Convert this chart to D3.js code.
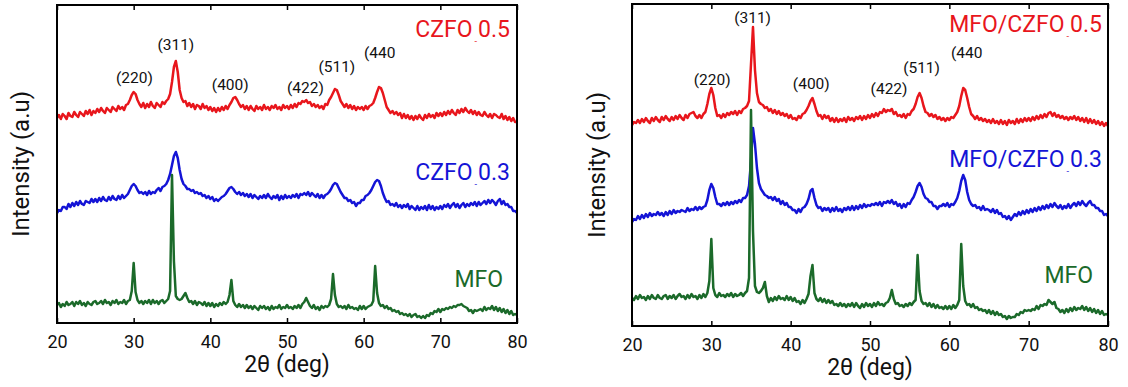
<!DOCTYPE html>
<html>
<head>
<meta charset="utf-8">
<script src="https://cdn.jsdelivr.net/npm/d3@7"></script>
<style>
  body { margin: 0; background: #fff; }
  text { font-family: Roboto, "Noto Sans", sans-serif; }
</style>
</head>
<body>
<svg id="chart" width="1128" height="387"></svg>
<script>
// 2theta sampling: 20..80 deg, every 0.25 deg (241 points per pattern)
const thetaStart = 20;
const thetaStep = 0.25;

// left panel (stacked intensities, a.u.)
const czfo05 = [
  205,208,204,209,207,204,210,207,206,211,208,206,211,209,207,212,209,213,208,212,
  210,214,211,215,212,210,215,213,211,216,214,212,217,214,216,213,218,219,223,228,
  231,229,223,219,216,220,215,219,216,221,217,215,220,218,216,221,219,222,224,229,
  241,256,262,251,233,225,221,222,217,220,216,219,214,218,217,214,219,215,217,213,
  216,212,215,211,215,212,216,213,217,214,218,221,225,226,223,219,216,218,214,217,
  213,217,214,212,217,214,216,213,218,214,216,213,217,215,218,214,216,213,218,215,
  217,214,218,215,219,216,220,219,222,221,223,220,221,217,219,216,218,215,217,214,
  219,218,223,226,230,234,233,228,222,219,216,219,215,218,214,217,213,216,214,216,
  213,217,214,217,218,220,225,231,236,235,230,223,216,213,210,212,209,211,208,210,
  205,209,205,208,204,207,203,207,204,208,205,203,208,205,209,206,208,205,210,207,
  210,207,211,208,212,209,213,210,208,213,210,214,211,215,212,210,213,209,212,208,
  211,208,207,211,208,206,209,205,209,208,206,205,209,204,207,203,206,202,205,201,
  201
];
const czfo03 = [
  110,113,112,116,116,114,119,116,120,117,121,118,122,119,118,122,121,120,124,121,
  124,121,125,122,126,123,122,126,123,127,124,123,127,124,128,125,127,129,133,137,
  139,137,133,130,131,129,131,128,132,129,131,130,133,135,132,136,137,139,143,149,
  158,167,171,165,153,144,139,137,134,134,132,133,130,131,129,130,127,128,125,127,
  124,126,122,124,122,124,126,127,129,132,135,136,134,131,129,131,128,130,127,129,
  126,129,125,128,126,124,127,125,128,125,129,126,124,127,125,128,123,127,124,128,
  125,127,125,128,126,129,125,129,128,130,128,131,127,130,128,126,129,125,128,125,
  128,129,131,134,138,140,139,135,131,128,125,125,122,123,120,121,117,120,120,123,
  123,127,128,130,133,137,141,143,142,137,130,125,121,122,118,119,117,120,116,118,
  115,118,116,119,114,117,115,113,117,113,116,114,117,113,118,114,117,113,116,114,
  117,114,118,116,119,115,118,120,116,119,115,118,120,116,119,117,120,118,121,117,
  121,118,120,122,119,123,120,123,121,118,122,124,119,122,118,119,116,116,112,112,
  110
];
const mfoLeft = [
  18,20,16,19,17,21,18,19,21,17,21,19,22,18,20,17,21,19,18,21,
  22,19,20,22,19,23,20,21,18,22,20,23,19,21,20,23,19,22,23,32,
  60,31,23,20,22,19,22,20,23,19,23,20,22,19,22,23,20,22,24,32,
  148,62,27,24,23,24,27,30,25,21,22,19,22,18,21,20,18,21,17,20,
  17,20,16,19,17,20,18,21,19,21,28,43,22,18,16,19,16,18,15,18,
  15,17,14,17,15,13,17,15,17,14,16,13,17,14,16,15,18,14,16,15,
  18,15,16,14,17,15,18,15,19,21,25,21,17,15,18,14,16,13,17,15,
  17,16,18,24,49,28,19,16,17,15,17,14,18,15,16,14,15,13,17,14,
  17,14,16,17,18,22,57,30,20,17,18,15,17,14,15,12,13,11,12,9,
  10,8,9,7,9,6,8,9,6,7,5,7,5,8,7,10,9,12,11,14,
  11,14,13,15,14,16,15,17,16,18,18,19,17,16,15,12,13,10,13,12,
  13,14,12,16,13,15,14,17,13,16,12,15,11,14,10,13,9,12,8,9,
  8
];

// right panel
const mfoCzfo05 = [
  201,204,203,206,203,207,204,208,205,203,208,205,209,206,204,209,206,210,207,205,
  209,206,210,207,211,208,206,211,208,212,213,214,210,208,211,208,212,214,222,232,
  238,231,218,210,211,208,212,209,213,211,214,212,215,211,215,213,217,218,220,225,
  262,299,256,233,224,222,221,218,219,215,217,213,216,212,215,211,213,210,212,208,
  211,207,208,206,210,208,212,213,216,220,225,228,222,215,210,211,207,211,208,210,
  205,208,204,208,204,207,205,208,204,209,206,208,205,209,207,210,206,210,207,211,
  208,212,209,213,210,214,213,217,214,216,215,217,212,214,210,211,209,212,208,212,
  211,215,217,222,229,233,228,220,214,213,210,212,209,211,207,209,206,208,205,208,
  206,209,208,211,214,220,230,238,236,228,219,212,210,207,210,206,208,205,207,204,
  206,203,207,203,205,202,206,202,205,201,206,203,205,202,207,203,207,204,208,205,
  208,205,209,206,210,207,211,208,212,209,213,214,210,213,209,211,208,210,207,209,
  206,209,207,210,206,209,205,208,204,208,203,207,203,206,202,205,201,204,200,203,
  200
];
const mfoCzfo03 = [
  104,107,106,110,107,111,108,112,109,113,110,112,111,114,111,113,110,114,111,115,
  112,116,113,115,114,116,115,114,118,115,117,116,119,116,119,117,119,120,126,136,
  142,138,129,122,122,120,123,121,124,121,124,122,125,123,126,124,128,128,131,140,
  165,198,182,158,143,137,134,131,130,128,129,126,129,125,127,122,125,121,123,119,
  119,116,116,113,117,114,118,119,122,127,135,137,128,121,118,119,115,118,116,118,
  114,118,115,119,115,117,114,118,116,119,116,120,116,120,117,121,118,122,119,121,
  120,122,121,123,121,124,120,124,123,125,123,126,122,124,120,122,118,122,119,123,
  122,126,129,134,140,143,139,132,128,127,124,124,120,120,117,120,120,122,120,123,
  119,122,121,124,128,135,145,151,146,134,126,122,120,121,118,119,116,120,116,117,
  116,114,117,113,116,112,113,109,110,107,110,106,109,112,110,114,111,115,112,116,
  113,117,114,118,115,119,116,120,117,121,118,122,119,123,120,118,121,117,120,118,
  122,118,121,123,120,124,121,125,122,120,123,125,121,121,118,118,115,115,111,112,
  110
];
const mfoRight = [
  28,26,30,27,31,28,29,26,30,27,31,28,27,31,28,27,30,31,27,30,
  28,31,27,30,32,29,30,27,31,28,32,29,30,27,31,28,32,29,33,45,
  87,38,31,29,33,30,31,29,32,30,33,29,32,30,31,33,30,33,35,48,
  216,95,40,34,33,35,38,44,30,24,28,25,29,26,30,27,28,26,30,26,
  29,25,28,24,25,22,26,23,27,32,50,61,33,27,25,28,24,27,23,26,
  23,25,21,22,20,23,20,22,19,22,20,23,19,23,20,18,22,19,23,20,
  22,19,23,20,24,21,22,20,23,24,28,36,27,22,23,20,21,19,22,20,
  23,21,24,26,71,35,25,22,23,20,23,19,22,18,21,18,19,17,20,17,
  20,17,21,18,21,26,82,40,25,21,22,19,22,18,19,16,17,15,16,13,
  16,12,15,11,14,11,12,9,10,7,10,8,9,9,12,11,14,13,16,15,
  16,15,17,16,20,17,21,20,22,21,26,24,22,24,18,17,14,16,13,17,
  14,18,15,19,16,18,17,20,16,19,15,18,14,17,13,16,12,15,11,12,
  11
];

const xTicks = [20, 30, 40, 50, 60, 70, 80];
const hklLabels = ["(220)", "(311)", "(400)", "(422)", "(511)", "(440"];
const leftNames = ["CZFO", "CZFO", "MFO"];
const rightNames = ["MFO/CZFO", "MFO/CZFO", "MFO"];
const suffixes = ["0.5", "0.3", ""];

const colors = ["#e8161c", "#1414d6", "#1b6a2a"];

const svg = d3.select("#chart");

function drawPanel(p) {
  const x = d3.scaleLinear().domain([20, 80]).range([p.left, p.right]);
  const y = d3.scaleLinear().domain([0, p.bottom - p.top]).range([p.bottom, p.top]);

  const line = d3.line()
    .x((d, i) => x(thetaStart + i * thetaStep))
    .y(d => y(d));

  p.series.forEach((s, k) => {
    svg.append("path")
      .datum(s)
      .attr("fill", "none")
      .attr("stroke", colors[k])
      .attr("stroke-width", 2.5)
      .attr("stroke-linejoin", "round")
      .attr("d", line);
  });

  // bottom axis, ticks pointing in
  const xAxis = svg.append("g")
    .attr("transform", `translate(0,${p.bottom})`)
    .call(d3.axisBottom(x).tickValues(xTicks).tickSizeInner(-5).tickSizeOuter(0).tickPadding(12).tickFormat(d3.format("d")));
  xAxis.select(".domain").remove();
  xAxis.selectAll(".tick line").attr("stroke", "#000").attr("stroke-width", 1.5);
  xAxis.selectAll(".tick text")
    .attr("font-size", 18)
    .attr("font-family", "Roboto")
    .attr("fill", "#111");

  const topAxis = svg.append("g")
    .attr("transform", `translate(0,${p.top})`)
    .call(d3.axisTop(x).tickValues(xTicks).tickSizeInner(-5).tickSizeOuter(0).tickFormat(""));
  topAxis.select(".domain").remove();
  topAxis.selectAll(".tick line").attr("stroke", "#000").attr("stroke-width", 1.5);

  svg.append("rect")
    .attr("x", p.left).attr("y", p.top)
    .attr("width", p.right - p.left).attr("height", p.bottom - p.top)
    .attr("fill", "none").attr("stroke", "#000").attr("stroke-width", 2);

  svg.append("text")
    .attr("x", (p.left + p.right) / 2).attr("y", p.bottom + 49)
    .attr("text-anchor", "middle")
    .attr("font-size", 23).attr("fill", "#111")
    .text("2θ (deg)");

  svg.append("text")
    .attr("transform", `translate(${p.yLabelX},${(p.top + p.bottom) / 2}) rotate(-90)`)
    .attr("text-anchor", "middle")
    .attr("dy", "0.35em")
    .attr("font-size", 24).attr("fill", "#111")
    .text("Intensity (a.u)");

  // hkl labels
  p.hkl.forEach((h, i) => {
    svg.append("text")
      .attr("x", x(h[0])).attr("y", y(h[1]))
      .attr("text-anchor", "middle")
      .attr("font-family", "'Liberation Sans', Arial, sans-serif")
      .attr("font-size", 15.5).attr("fill", "#111")
      .text(hklLabels[i]);
  });

  // sample names
  p.names.forEach((n, k) => {
    const t = svg.append("text")
      .attr("x", p.nameX[k]).attr("y", y(p.nameY[k]))
      .attr("text-anchor", "end")
      .attr("font-size", 23).attr("fill", colors[k]);
    t.append("tspan").text(n);
    if (suffixes[k]) {
      t.append("tspan").attr("font-size", 9).attr("dy", 7).attr("dx", 2).text("-");
      t.append("tspan").attr("dy", -7).attr("dx", 1).text(suffixes[k]);
    }
  });
}

drawPanel({
  left: 57, right: 517, top: 5, bottom: 323, yLabelX: 21,
  series: [czfo05, czfo03, mfoLeft],
  names: leftNames,
  nameX: [510, 510, 503],
  nameY: [286, 143, 36],
  hkl: [[30.1, 240], [35.5, 273], [42.6, 233], [52.4, 230], [56.5, 251], [62.1, 265]]
});

drawPanel({
  left: 632, right: 1108, top: 4, bottom: 326, yLabelX: 597,
  series: [mfoCzfo05, mfoCzfo03, mfoRight],
  names: rightNames,
  nameX: [1102, 1102, 1093],
  nameY: [294, 159, 43],
  hkl: [[30.1, 241], [35.2, 303], [42.6, 237], [52.4, 232], [56.5, 253], [62.2, 268]]
});
</script>
</body>
</html>
